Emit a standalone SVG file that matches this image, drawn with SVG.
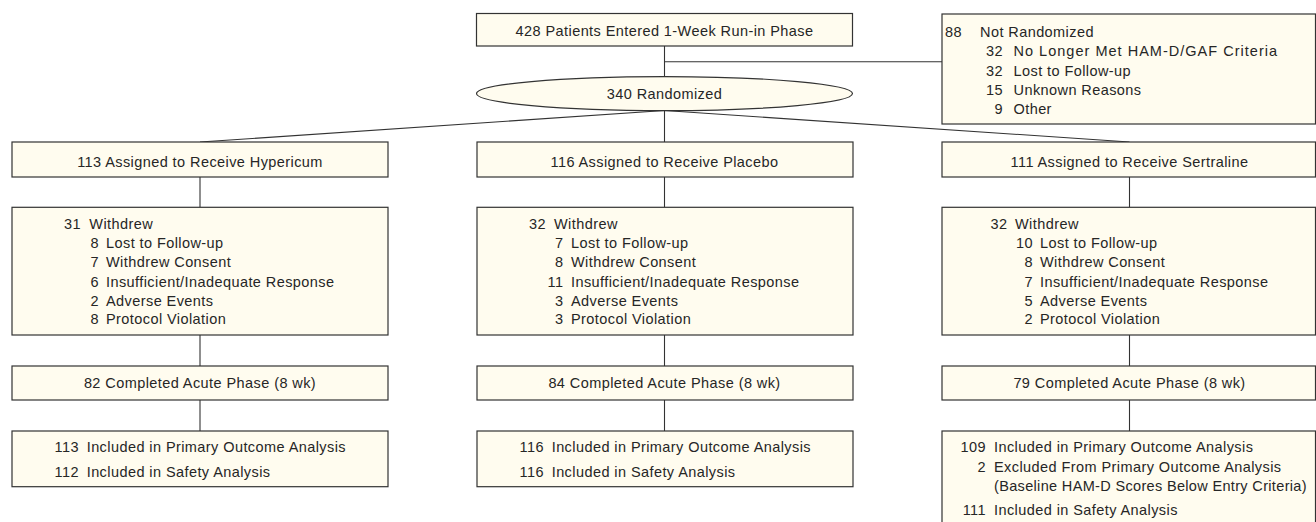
<svg xmlns="http://www.w3.org/2000/svg" width="1316" height="522" viewBox="0 0 1316 522">
<style>
.box{fill:#fffcef;stroke:#333;stroke-width:1.2}
.ln{stroke:#333;stroke-width:1.1;fill:none}
text{font-family:"Liberation Sans",Arial,sans-serif;font-size:14.5px;letter-spacing:0.42px;fill:#262626}
.c{text-anchor:middle}
.r{text-anchor:end}
</style>
<rect width="1316" height="522" fill="#fff"/>
<g id="connectors">
<line class="ln" x1="664.5" y1="46" x2="664.5" y2="142"/>
<line class="ln" x1="664.5" y1="61.7" x2="942" y2="61.7"/>
<line class="ln" x1="664.5" y1="110.5" x2="200" y2="142"/>
<line class="ln" x1="664.5" y1="110.5" x2="1129.5" y2="142"/>
<line class="ln" x1="200" y1="177" x2="200" y2="207"/>
<line class="ln" x1="664.5" y1="177" x2="664.5" y2="207"/>
<line class="ln" x1="1129.5" y1="177" x2="1129.5" y2="207"/>
<line class="ln" x1="200" y1="335" x2="200" y2="366"/>
<line class="ln" x1="664.5" y1="335" x2="664.5" y2="366"/>
<line class="ln" x1="1129.5" y1="335" x2="1129.5" y2="366"/>
<line class="ln" x1="200" y1="400" x2="200" y2="431"/>
<line class="ln" x1="664.5" y1="400" x2="664.5" y2="431"/>
<line class="ln" x1="1129.5" y1="400" x2="1129.5" y2="431"/>
</g>
<g id="entered">
<rect class="box" x="476.5" y="13.5" width="376" height="32.5"/>
<text class="c" x="664.5" y="36">428 Patients Entered 1-Week Run-in Phase</text>
</g>
<g id="randomized">
<ellipse class="box" cx="664.5" cy="93.6" rx="188" ry="17"/>
<text class="c" x="664.5" y="98.5">340 Randomized</text>
</g>
<g id="not-randomized">
<rect class="box" x="942" y="14" width="373.5" height="110"/>
<text class="r" x="962" y="36.7">88</text><text x="980" y="36.7">Not Randomized</text>
<text class="r" x="1003" y="56">32</text><text x="1013.5" y="56" textLength="264" lengthAdjust="spacing">No Longer Met HAM-D/GAF Criteria</text>
<text class="r" x="1003" y="75.5">32</text><text x="1013.5" y="75.5">Lost to Follow-up</text>
<text class="r" x="1003" y="95">15</text><text x="1013.5" y="95">Unknown Reasons</text>
<text class="r" x="1003" y="113.5">9</text><text x="1013.5" y="113.5">Other</text>
</g>
<g id="assigned-hypericum">
<rect class="box" x="12" y="142" width="376" height="35"/>
<text class="c" x="200" y="166.7">113 Assigned to Receive Hypericum</text>
</g>
<g id="assigned-placebo">
<rect class="box" x="477" y="142" width="376" height="35"/>
<text class="c" x="664.5" y="166.7">116 Assigned to Receive Placebo</text>
</g>
<g id="assigned-sertraline">
<rect class="box" x="942" y="142" width="373.5" height="35"/>
<text class="c" x="1129.5" y="166.7">111 Assigned to Receive Sertraline</text>
</g>
<g id="withdrew-hypericum">
<rect class="box" x="12" y="207.3" width="376" height="127.7"/>
<text class="r" x="81" y="229.3">31</text><text x="89.3" y="229.3">Withdrew</text>
<text class="r" x="99" y="248.3">8</text><text x="106" y="248.3">Lost to Follow-up</text>
<text class="r" x="99" y="267">7</text><text x="106" y="267">Withdrew Consent</text>
<text class="r" x="99" y="286.7">6</text><text x="106" y="286.7">Insufficient/Inadequate Response</text>
<text class="r" x="99" y="305.7">2</text><text x="106" y="305.7">Adverse Events</text>
<text class="r" x="99" y="324.3">8</text><text x="106" y="324.3">Protocol Violation</text>
</g>
<g id="withdrew-placebo">
<rect class="box" x="477" y="207.3" width="376" height="127.7"/>
<text class="r" x="546" y="229.3">32</text><text x="554" y="229.3">Withdrew</text>
<text class="r" x="563.5" y="248.3">7</text><text x="571" y="248.3">Lost to Follow-up</text>
<text class="r" x="563.5" y="267">8</text><text x="571" y="267">Withdrew Consent</text>
<text class="r" x="563.5" y="286.7">11</text><text x="571" y="286.7">Insufficient/Inadequate Response</text>
<text class="r" x="563.5" y="305.7">3</text><text x="571" y="305.7">Adverse Events</text>
<text class="r" x="563.5" y="324.3">3</text><text x="571" y="324.3">Protocol Violation</text>
</g>
<g id="withdrew-sertraline">
<rect class="box" x="942" y="207.3" width="373.5" height="127.7"/>
<text class="r" x="1007.5" y="229.3">32</text><text x="1015" y="229.3">Withdrew</text>
<text class="r" x="1033" y="248.3">10</text><text x="1040" y="248.3">Lost to Follow-up</text>
<text class="r" x="1033" y="267">8</text><text x="1040" y="267">Withdrew Consent</text>
<text class="r" x="1033" y="286.7">7</text><text x="1040" y="286.7">Insufficient/Inadequate Response</text>
<text class="r" x="1033" y="305.7">5</text><text x="1040" y="305.7">Adverse Events</text>
<text class="r" x="1033" y="324.3">2</text><text x="1040" y="324.3">Protocol Violation</text>
</g>
<g id="completed-hypericum">
<rect class="box" x="12" y="366" width="376" height="34"/>
<text class="c" x="200" y="388.3">82 Completed Acute Phase (8 wk)</text>
</g>
<g id="completed-placebo">
<rect class="box" x="477" y="366" width="376" height="34"/>
<text class="c" x="664.5" y="388.3">84 Completed Acute Phase (8 wk)</text>
</g>
<g id="completed-sertraline">
<rect class="box" x="942" y="366" width="373.5" height="34"/>
<text class="c" x="1129.5" y="388.3">79 Completed Acute Phase (8 wk)</text>
</g>
<g id="analysis-hypericum">
<rect class="box" x="12" y="431" width="376" height="55.7"/>
<text class="r" x="79" y="452.3">113</text><text x="86.7" y="452.3">Included in Primary Outcome Analysis</text>
<text class="r" x="79" y="476.7">112</text><text x="86.7" y="476.7">Included in Safety Analysis</text>
</g>
<g id="analysis-placebo">
<rect class="box" x="477" y="431" width="376" height="55.7"/>
<text class="r" x="544" y="452.3">116</text><text x="551.7" y="452.3">Included in Primary Outcome Analysis</text>
<text class="r" x="544" y="476.7">116</text><text x="551.7" y="476.7">Included in Safety Analysis</text>
</g>
<g id="analysis-sertraline">
<rect class="box" x="942" y="431" width="373.5" height="100"/>
<text class="r" x="986" y="452.3">109</text><text x="994" y="452.3">Included in Primary Outcome Analysis</text>
<text class="r" x="986" y="471.7">2</text><text x="994" y="471.7">Excluded From Primary Outcome Analysis</text>
<text x="994" y="491" textLength="313" lengthAdjust="spacing">(Baseline HAM-D Scores Below Entry Criteria)</text>
<text class="r" x="986" y="515">111</text><text x="994" y="515">Included in Safety Analysis</text>
</g>
</svg>
